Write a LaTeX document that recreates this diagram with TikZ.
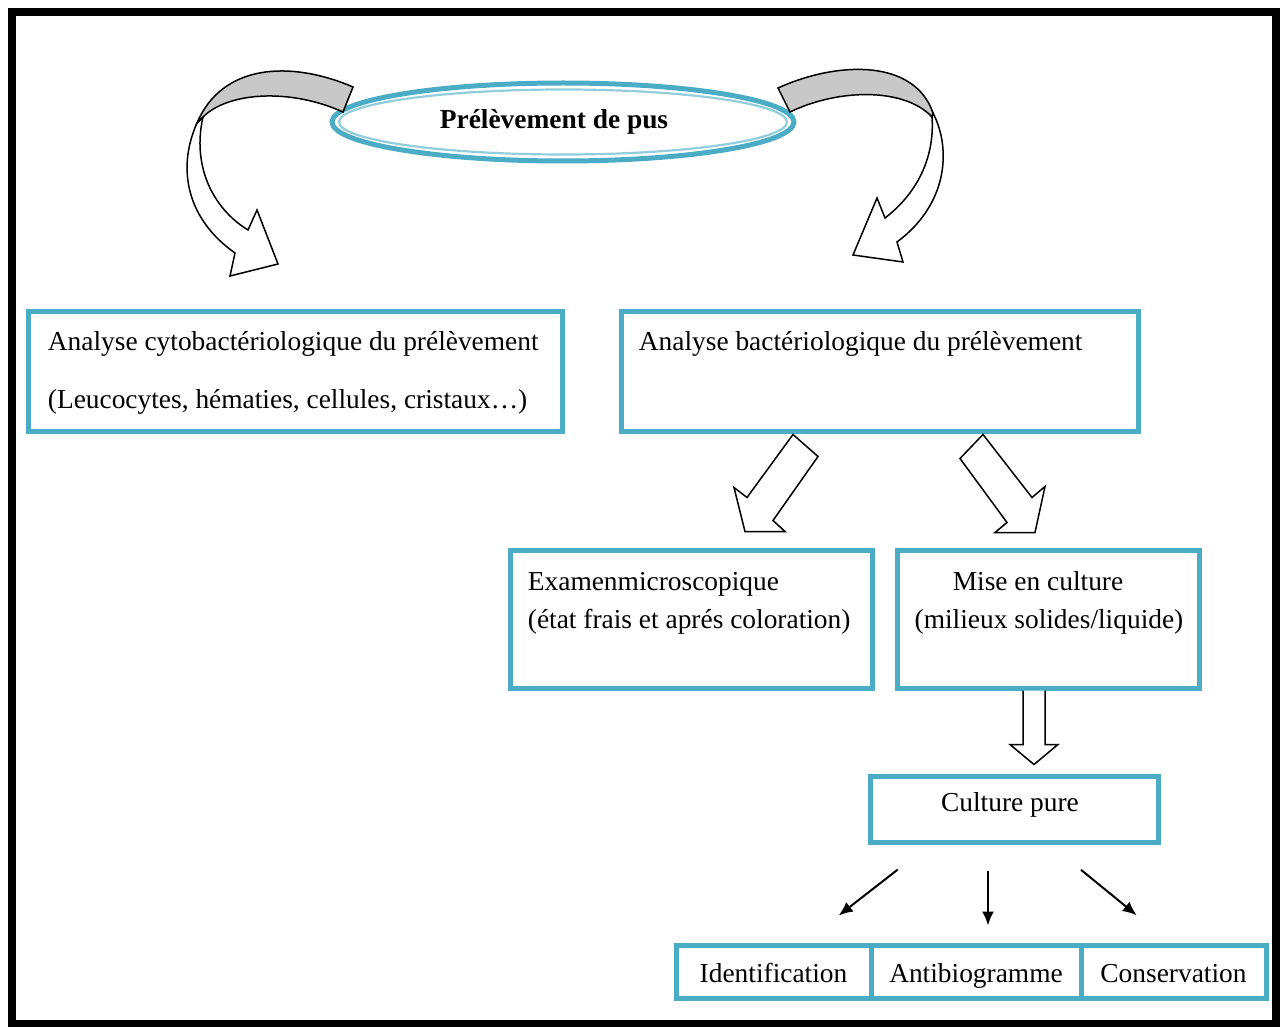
\documentclass[tikz,border=0pt]{standalone}
\usepackage{fontspec}
\setmainfont{Liberation Serif}
\usetikzlibrary{positioning,arrows.meta,calc,shapes.geometric}
\definecolor{accent}{HTML}{4BACC6}
\definecolor{accentlight}{HTML}{92CDDC}
\definecolor{bandgray}{HTML}{C8C8C8}
\tikzset{
    x=0.5pt,
    y=-0.5pt,
    box/.style = {
        draw=accent,
        shape=rectangle,
        line width=2.5pt,
        inner sep=0pt
    },
    oval/.style = {
        draw=accent,
        shape=ellipse,
        line width=2.5pt,
        inner sep=0pt
    },
    txt/.style = {
        font=\fontsize{13.7}{19}\selectfont,
        inner sep=0pt
    },
    cell/.style = {
        box,
        txt,
        text height=11.5pt,
        text depth=1pt,
        minimum height=26.5pt
    },
    bigarrow/.style = {
        draw=black,
        fill=white,
        line width=0.75pt
    },
    twist/.style = {
        draw=black,
        fill=bandgray,
        line width=0.75pt
    },
    pointer/.style = {
        ->,
        line width=1pt
    },
    >={Latex[length=7pt,width=6pt]},
}

\begin{document}
\begin{tikzpicture}
    \useasboundingbox (0,0) rectangle (1281,1027);
    \draw[line width=4pt] (12,12) rectangle (1276,1024);

    % sample
    \node[oval, txt, minimum width=231pt, minimum height=39pt] (pus) at (563,122) {\textbf{Prélèvement de pus}\hspace*{9pt}};
    \draw[accentlight, line width=1.1pt] (pus.center) ellipse [x radius=112pt, y radius=16.25pt];

    % curved arrows
    \begin{scope}[shift={(pus.center)}]
        \draw[bigarrow] (-366,1) .. controls (-387,48) and (-375,98) .. (-328,131)
            -- (-333,154) -- (-285,142) -- (-306,88) -- (-315,108)
            .. controls (-351,86) and (-371,43) .. (-360,-5) -- cycle;
        \draw[twist] (-210,-35) .. controls (-273,-62) and (-341,-58) .. (-366,1)
            -- (-360,-5) .. controls (-335,-30) and (-273,-34) .. (-220,-10) -- cycle;
        \draw[bigarrow] (370,-9) .. controls (389,28) and (384,83) .. (334,120)
            -- (340,140) -- (290,133) -- (314,76) -- (322,96)
            .. controls (352,73) and (372,38) .. (369,-5) -- cycle;
        \draw[twist] (215,-34) .. controls (277,-62) and (352,-62) .. (370,-9)
            -- (369,-5) .. controls (342,-34) and (277,-34) .. (227,-10) -- cycle;
    \end{scope}

    % first level
    \node[box, minimum width=267pt, minimum height=60pt] (cyto) at (295,372) {};
    \node[txt, anchor=base west] (cytoA) at ($(cyto.north west)+(22,41)$) {Analyse cytobactériologique du prélèvement};
    \node[txt, anchor=base west] (cytoB) at ($(cyto.north west)+(22,99)$) {(Leucocytes, hématies, cellules, cristaux…)};

    \node[box, minimum width=258.5pt, minimum height=60pt] (bact) at (879.5,372) {};
    \node[txt, anchor=base west] (bactA) at ($(bact.north west)+(20,41)$) {Analyse bactériologique du prélèvement};

    % second level
    \begin{scope}[shift={($(bact.south)+(-86.5,0)$)}]
        \draw[bigarrow] (0,0) -- (25,22) -- (-20,86) -- (-8,97) -- (-48,97) -- (-59,53) -- (-46,63) -- cycle;
    \end{scope}
    \begin{scope}[shift={($(bact.south)+(103.5,0)$)}]
        \draw[bigarrow] (0,0) -- (-23,24) -- (24,88) -- (12,98) -- (52,98) -- (62,52) -- (49,63) -- cycle;
    \end{scope}

    \node[box, minimum width=181pt, minimum height=69pt] (exam) at (691,619) {};
    \node[txt, anchor=base west] (examA) at ($(exam.north west)+(20,43)$) {Examenmicroscopique};
    \node[txt, anchor=base west] (examB) at ($(exam.north west)+(20,81)$) {(état frais et aprés coloration)};

    \node[box, minimum width=151pt, minimum height=69pt] (mise) at (1048,619) {};
    \node[txt, anchor=base] (miseA) at ($(mise.north)+(-10,43)$) {Mise en culture};
    \node[txt, anchor=base] (miseB) at ($(mise.north)+(1,81)$) {(milieux solides/liquide)};

    % pure culture
    \begin{scope}[shift={($(mise.south)+(-14,0)$)}]
        \path[bigarrow] (-11,0) -- (-11,54) -- (-24,54) -- (0,74) -- (24,54) -- (11,54) -- (11,0);
    \end{scope}
    \node[box, minimum width=144pt, minimum height=33pt] (pure) at (1014,809) {};
    \node[txt, anchor=base] (pureA) at ($(pure.north)+(-4,38)$) {Culture pure};

    % last row
    \node[cell, minimum width=97.5pt] (ident) at (773.5,971.5) {Identification};
    \node[cell, minimum width=105pt] (antib) at (976,971.5) {Antibiogramme};
    \node[cell, minimum width=92.5pt] (conserv) at (1173.5,971.5) {Conservation};

    \draw[pointer, shorten <=20.5pt, shorten >=22pt] ($(pure.south)+(-84,0)$) -- ($(ident.north)+(30.5,0)$);
    \draw[pointer, shorten <=13pt, shorten >=8.5pt] ($(pure.south)+(-26,0)$) -- ($(antib.north)+(12,0)$);
    \draw[pointer, shorten <=20pt, shorten >=21.5pt] ($(pure.south)+(36,0)$) -- ($(conserv.north)+(-3.5,0)$);
\end{tikzpicture}
\end{document}
